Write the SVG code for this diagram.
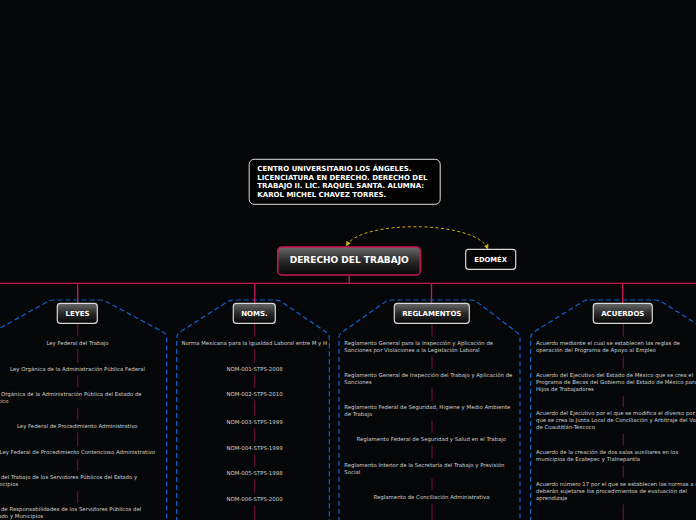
<svg xmlns="http://www.w3.org/2000/svg" width="696" height="520" viewBox="0 0 696 520">
<defs>
<style>
.bg{fill:#060709}
.t{font-family:"DejaVu Sans",Verdana,sans-serif;font-size:5.4px;fill:#cfcfcf}
.c{text-anchor:middle}
.h{font-family:"DejaVu Sans",Verdana,sans-serif;font-weight:bold;fill:#ffffff}
.cont{fill:none;stroke:#0d64d0;stroke-width:1.2;stroke-dasharray:5 3}
.col{stroke:#6b0f33;stroke-width:1.2;fill:none}
.main{stroke:#c8174f;stroke-width:1.3;fill:none}
.child{fill:url(#g);stroke:#d8d8d8;stroke-width:1.2}
.ib{fill:#060709}
</style>
<linearGradient id="g" x1="0" y1="0" x2="0" y2="1">
<stop offset="0" stop-color="#6a6a6a"/>
<stop offset="0.5" stop-color="#2a2a2a"/>
<stop offset="1" stop-color="#050505"/>
</linearGradient>
<marker id="ya" viewBox="0 0 10 10" refX="8" refY="5" markerWidth="5" markerHeight="5" orient="auto-start-reverse">
<path d="M0 0 L10 5 L0 10 z" fill="#c9b20e"/>
</marker>
</defs>
<rect width="696" height="520" class="bg"/>

<!-- containers -->
<g id="containers">
<path class="cont" d="M-10.7 530 V338 Q-10.7 334 -7 332 L47 302 Q50 300 54 300 H100 Q104 300 107 302 L163 332 Q166.7 334 166.7 338 V530"/>
<path class="cont" d="M176.7 530 V338 Q176.7 334 180 332 L227 302 Q230 300 234 300 H275 Q279 300 282 302 L326 332 Q329.3 334 329.3 338 V530"/>
<path class="cont" d="M339 530 V338 Q339 334 342.5 332 L385 302 Q388 300 392 300 H470 Q474 300 477 302 L516.5 332 Q520 334 520 338 V530"/>
<path class="cont" d="M530.7 530 V338 Q530.7 334 534 332 L582 302 Q585 300 589 300 H655 Q659 300 662 302 L709.5 332 Q713 334 713 338 V530"/>
</g>

<!-- connectors -->
<g id="connectors">
<path class="main" d="M0 283.3 H696 M349.2 275 V283.3 M77.7 283.3 V303.3 M254.8 283.3 V303.3 M431.5 283.3 V303.3 M622.7 283.3 V303.3"/>
<path class="col" d="M77.7 323.3 V520 M254.7 323.3 V520 M432 323.3 V520 M623.3 323.3 V520"/>
<path d="M346.7 245.5 C360 220, 475 220, 487.7 248.5" fill="none" stroke="#c9b20e" stroke-width="1" stroke-dasharray="3 2.5" marker-start="url(#ya)" marker-end="url(#ya)"/>
</g>

<!-- title box -->
<g id="title">
<rect x="249.2" y="159.3" width="191" height="45" rx="5" fill="#020203" stroke="#e0e0e0" stroke-width="1"/>
<text class="h" font-size="7" x="257.3"><tspan x="257.3" y="170.8">CENTRO UNIVERSITARIO LOS ÁNGELES.</tspan><tspan x="257.3" y="179.5">LICENCIATURA EN DERECHO. DERECHO DEL</tspan><tspan x="257.3" y="188.2">TRABAJO II. LIC. RAQUEL SANTA. ALUMNA:</tspan><tspan x="257.3" y="196.9">KAROL MICHEL CHAVEZ TORRES.</tspan></text>
</g>

<g id="root">
<rect x="277.7" y="247" width="142.6" height="28" rx="4" fill="url(#g)" stroke="#c8174f" stroke-width="1.5"/>
<text class="h c" font-size="9" x="349.2" y="263.3">DERECHO DEL TRABAJO</text>
</g>

<g id="edomex">
<rect x="465.7" y="249.3" width="50" height="20" rx="3" fill="#050505" stroke="#d8d8d8" stroke-width="1.2"/>
<text class="h c" font-size="6.8" x="490.6" y="261.8">EDOMÉX</text>
</g>

<g id="leyes">
<rect class="child" x="57.3" y="303.3" width="40" height="20" rx="3"/>
<text class="h c" font-size="7" x="77.5" y="315.9">LEYES</text>
</g>
<g id="noms">
<rect class="child" x="233.3" y="303.3" width="42" height="20" rx="3"/>
<text class="h c" font-size="7" x="254.5" y="315.9">NOMS.</text>
</g>
<g id="reglamentos">
<rect class="child" x="394.3" y="303.3" width="75" height="20" rx="3"/>
<text class="h c" font-size="7" x="431.8" y="315.9">REGLAMENTOS</text>
</g>
<g id="acuerdos">
<rect class="child" x="593.3" y="303.3" width="59" height="20" rx="3"/>
<text class="h c" font-size="7" x="622.8" y="315.9">ACUERDOS</text>
</g>

<!-- LEYES items -->
<g id="ley1"><rect class="ib" x="40" y="336.5" width="76" height="12.5"/><text class="t c" x="77.5" y="344.7">Ley Federal del Trabajo</text></g>
<g id="ley2"><rect class="ib" x="8" y="362.7" width="140" height="12.8"/><text class="t c" x="77.5" y="371">Ley Orgánica de la Administración Pública Federal</text></g>
<g id="ley3"><rect class="ib" x="-10" y="387.5" width="160" height="20"/><text class="t" x="-10.2"><tspan x="-10.2" y="396">Ley Orgánica de la Administración Pública del Estado de</tspan><tspan x="-10.2" y="403">México</tspan></text></g>
<g id="ley4"><rect class="ib" x="14" y="419.5" width="128" height="13"/><text class="t c" x="77.3" y="428">Ley Federal de Procedimiento Administrativo</text></g>
<g id="ley5"><rect class="ib" x="-3" y="446" width="162" height="13"/><text class="t c" x="77.3" y="454.3">Ley Federal de Procedimiento Contencioso Administrativo</text></g>
<g id="ley6"><rect class="ib" x="-10" y="471" width="155" height="20"/><text class="t" x="-10.2"><tspan x="-10.2" y="479.3">Ley del Trabajo de los Servidores Públicos del Estado y</tspan><tspan x="-10.2" y="486.3">Municipios</tspan></text></g>
<g id="ley7"><rect class="ib" x="-10" y="503" width="160" height="20"/><text class="t" x="-10.2"><tspan x="-10.2" y="511.3">Ley de Responsabilidades de los Servidores Públicos del</tspan><tspan x="-10.2" y="518.3">Estado y Municipios</tspan></text></g>

<!-- NOMS items -->
<g id="nom0"><rect class="ib" x="180" y="336.5" width="148" height="12.5"/><text class="t c" x="254.3" y="344.7">Norma Mexicana para la Igualdad Laboral entre M y H</text></g>
<g id="nom1"><rect class="ib" x="224" y="362.7" width="62" height="12.8"/><text class="t c" x="254.5" y="371">NOM-001-STPS-2008</text></g>
<g id="nom2"><rect class="ib" x="224" y="387.7" width="62" height="12.8"/><text class="t c" x="254.5" y="396">NOM-002-STPS-2010</text></g>
<g id="nom3"><rect class="ib" x="224" y="415.7" width="62" height="12.8"/><text class="t c" x="254.5" y="424">NOM-003-STPS-1999</text></g>
<g id="nom4"><rect class="ib" x="224" y="441.7" width="62" height="12.8"/><text class="t c" x="254.5" y="450">NOM-004-STPS-1999</text></g>
<g id="nom5"><rect class="ib" x="224" y="466.7" width="62" height="12.8"/><text class="t c" x="254.5" y="475">NOM-005-STPS-1998</text></g>
<g id="nom6"><rect class="ib" x="224" y="492.7" width="62" height="12.8"/><text class="t c" x="254.5" y="501">NOM-006-STPS-2000</text></g>

<!-- REGLAMENTOS items -->
<g id="reg1"><rect class="ib" x="343" y="336.5" width="174" height="20"/><text class="t"><tspan x="344.3" y="344.7">Reglamento General para la Inspección y Aplicación de</tspan><tspan x="344.3" y="352">Sanciones por Violaciones a la Legislación Laboral</tspan></text></g>
<g id="reg2"><rect class="ib" x="343" y="368.7" width="174" height="20"/><text class="t"><tspan x="344.3" y="377">Reglamento General de Inspección del Trabajo y Aplicación de</tspan><tspan x="344.3" y="384.3">Sanciones</tspan></text></g>
<g id="reg3"><rect class="ib" x="343" y="401" width="174" height="20"/><text class="t"><tspan x="344.3" y="409.3">Reglamento Federal de Seguridad, Higiene y Medio Ambiente</tspan><tspan x="344.3" y="416.3">de Trabajo</tspan></text></g>
<g id="reg4"><rect class="ib" x="354" y="432.7" width="155" height="12.8"/><text class="t c" x="431.3" y="441">Reglamento Federal de Seguridad y Salud en el Trabajo</text></g>
<g id="reg5"><rect class="ib" x="343" y="458.4" width="174" height="20"/><text class="t"><tspan x="344.3" y="466.7">Reglamento Interior de la Secretaría del Trabajo y Previsión</tspan><tspan x="344.3" y="473.7">Social</tspan></text></g>
<g id="reg6"><rect class="ib" x="371" y="490.7" width="121" height="12.8"/><text class="t c" x="431.5" y="499">Reglamento de Conciliación Administrativa</text></g>

<!-- ACUERDOS items -->
<g id="acu1"><rect class="ib" x="535" y="336.5" width="170" height="20"/><text class="t"><tspan x="536" y="344.7">Acuerdo mediante el cual se establecen las reglas de</tspan><tspan x="536" y="352">operación del Programa de Apoyo al Empleo</tspan></text></g>
<g id="acu2"><rect class="ib" x="535" y="368.7" width="170" height="27"/><text class="t"><tspan x="536" y="377">Acuerdo del Ejecutivo del Estado de México que se crea el</tspan><tspan x="536" y="384">Programa de Becas del Gobierno del Estado de México para</tspan><tspan x="536" y="391">Hijos de Trabajadores</tspan></text></g>
<g id="acu3"><rect class="ib" x="535" y="407" width="170" height="27"/><text class="t"><tspan x="536" y="415.3">Acuerdo del Ejecutivo por el que se modifica el diverso por el</tspan><tspan x="536" y="422.3">que se crea la Junta Local de Conciliación y Arbitraje del Valle</tspan><tspan x="536" y="429.3">de Cuautitlán-Texcoco</tspan></text></g>
<g id="acu4"><rect class="ib" x="535" y="445.7" width="170" height="20"/><text class="t"><tspan x="536" y="454">Acuerdo de la creación de dos salas auxiliares en los</tspan><tspan x="536" y="461">municipios de Ecatepec y Tlalnepantla</tspan></text></g>
<g id="acu5"><rect class="ib" x="535" y="477.4" width="170" height="27"/><text class="t"><tspan x="536" y="485.7">Acuerdo número 17 por el que se establecen las normas a que</tspan><tspan x="536" y="492.7">deberán sujetarse los procedimientos de evaluación del</tspan><tspan x="536" y="499.7">aprendizaje</tspan></text></g>
</svg>
